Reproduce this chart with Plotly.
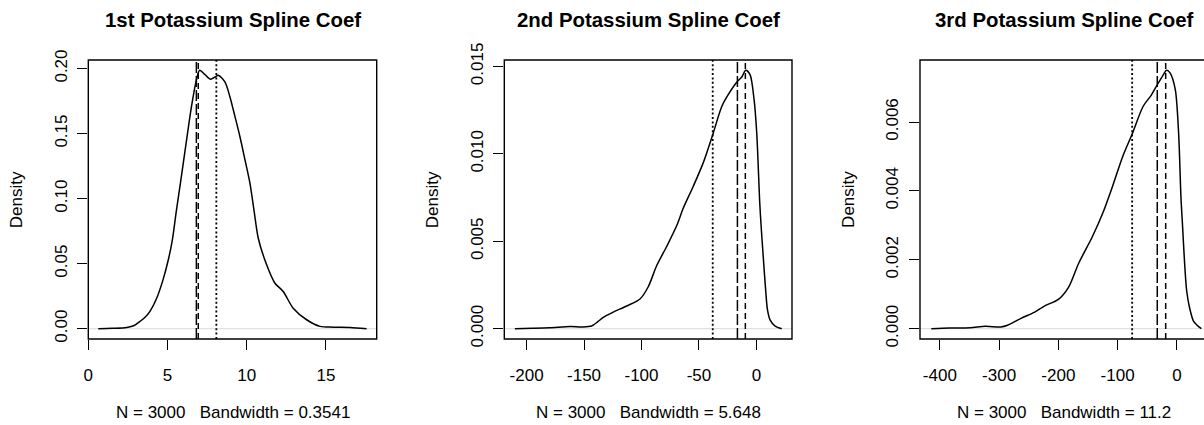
import plotly.graph_objects as go

W, H = 1204, 425

# ---------------- data ----------------
k1_x = [0.63, 1.5, 2.43, 2.9, 3.26, 3.6, 3.9, 4.3, 4.7, 5.05, 5.3, 5.55, 5.85, 6.2, 6.5,
        6.8, 7.03, 7.35, 7.7, 8.0, 8.2, 8.62, 8.94, 9.26, 9.57, 9.89, 10.2, 10.47, 10.73,
        11.26, 11.78, 12.3, 12.93, 13.78, 14.62, 15.46, 16.51, 17.56]
k1_d = [0.0, 0.0003, 0.001, 0.0025, 0.0056, 0.009, 0.0135, 0.023, 0.037, 0.053, 0.068, 0.09,
        0.115, 0.145, 0.17, 0.19, 0.1987, 0.1955, 0.1918, 0.1935, 0.1949, 0.1897, 0.1782,
        0.1629, 0.1476, 0.1297, 0.1119, 0.0899, 0.0694, 0.049, 0.035, 0.0286, 0.0158,
        0.0069, 0.0018, 0.0012, 0.001, 0.0]

k2_x = [-210.2, -195, -180, -162, -152, -143.4, -138, -133.3, -124.6, -112.9, -101.3, -94.1,
        -86.8, -78.1, -69.3, -63.6, -54.9, -46.2, -37.5, -30.2, -24.4, -17.1, -12.7, -9.2,
        -5.5, -2.0, 0.3, 3.0, 4.5, 6.1, 8.2, 9.6, 11.9, 16.3, 22.1]
k2_d = [0.0, 0.00002, 0.00005, 0.00012, 0.0001, 0.00015, 0.0004, 0.00065, 0.00095, 0.0013,
        0.0017, 0.0024, 0.0036, 0.0047, 0.0059, 0.0069, 0.00815, 0.0095, 0.0112, 0.0127,
        0.0134, 0.0141, 0.0144, 0.01478, 0.01453, 0.0131, 0.0112, 0.0071, 0.0055, 0.004,
        0.0021, 0.0011, 0.0005, 0.00015, 0.0]

k3_x = [-414.4, -383, -348.7, -323, -297, -285.8, -263, -240, -223, -200, -182.9, -165.7,
        -142.9, -124, -108.6, -91.4, -75.5, -57.1, -42.9, -33.1, -24, -17.5, -11.3, -2.7,
        2.9, 6.9, 9.5, 12.7, 16.5, 21.5, 28, 34, 41.2]
k3_d = [0.0, 0.00002, 0.00003, 0.00007, 0.00005, 0.0001, 0.0003, 0.00048, 0.00066, 0.00085,
        0.0012, 0.0019, 0.00266, 0.0034, 0.00413, 0.0050, 0.00565, 0.00645, 0.00679, 0.00708,
        0.00734, 0.0075, 0.00742, 0.00694, 0.00568, 0.0038, 0.003, 0.002, 0.0011, 0.0006,
        0.00022, 0.0001, 0.0]

# vertical reference lines: [dotted, long dash, short dash]
vlines1 = [8.08, 6.82, 6.94]
vlines2 = [-38.0, -16.5, -9.6]
vlines3 = [-75.5, -33.1, -18.9]

titles = ["1st Potassium Spline Coef", "2nd Potassium Spline Coef", "3rd Potassium Spline Coef"]
subtitles = ["N = 3000   Bandwidth = 0.3541", "N = 3000   Bandwidth = 5.648",
             "N = 3000   Bandwidth = 11.2"]
ylabel = "Density"

x1_ticks = [0, 5, 10, 15]
x1_text = ["0", "5", "10", "15"]
x2_ticks = [-200, -150, -100, -50, 0]
x2_text = ["-200", "-150", "-100", "-50", "0"]
x3_ticks = [-400, -300, -200, -100, 0]
x3_text = ["-400", "-300", "-200", "-100", "0"]
y1_ticks = [0.0, 0.05, 0.10, 0.15, 0.20]
y1_text = ["0.00", "0.05", "0.10", "0.15", "0.20"]
y2_ticks = [0.0, 0.005, 0.010, 0.015]
y2_text = ["0.000", "0.005", "0.010", "0.015"]
y3_ticks = [0.0, 0.002, 0.004, 0.006]
y3_text = ["0.000", "0.002", "0.004", "0.006"]

# ---------------- layout geometry (pixels) ----------------
boxes = [(88.3, 376.7), (504.3, 792.0), (920.0, 1208.0)]
box_top, box_bot = 60.0, 339.0
xranges = [[0.0, 18.2], [-219.4, 31.0], [-433.5, 52.5]]
yranges = [[-0.0079, 0.2066], [-0.00059, 0.01537], [-0.0003, 0.0078]]

FONT = "Liberation Sans, Arial, Helvetica, sans-serif"
fs = 17

fig = go.Figure()

series = [(k1_x, k1_d), (k2_x, k2_d), (k3_x, k3_d)]
vls = [vlines1, vlines2, vlines3]
xt = [(x1_ticks, x1_text), (x2_ticks, x2_text), (x3_ticks, x3_text)]
yt = [(y1_ticks, y1_text), (y2_ticks, y2_text), (y3_ticks, y3_text)]
dashes = ["2px,2.4px", "11px,3px", "6px,4px"]
dash_w = [1.8, 1.5, 1.5]

ydom = [1 - box_bot / H, 1 - box_top / H]

for i in range(3):
    sfx = "" if i == 0 else str(i + 1)
    xa, ya = "x" + sfx, "y" + sfx
    xs, ds = series[i]
    fig.add_trace(go.Scatter(x=xs, y=ds, mode="lines", xaxis=xa, yaxis=ya,
                             line=dict(color="black", width=1.5, shape="spline", smoothing=0.8),
                             showlegend=False, hoverinfo="skip"))
    l, r = boxes[i]
    xd = [l / W, min(r, W) / W]
    x0, x1 = xranges[i]
    if r > W:
        x1 = x0 + (x1 - x0) * (W - l) / (r - l)
    fig.update_layout(**{
        "xaxis" + sfx: dict(domain=xd, range=[x0, x1], anchor=ya, showgrid=False,
                            zeroline=False, showline=False, ticks="outside", ticklen=10,
                            tickwidth=1.3, tickcolor="black", tickvals=xt[i][0],
                            ticktext=xt[i][1], tickfont=dict(family=FONT, size=fs, color="black"),
                            ticklabelstandoff=11, automargin=False),
        "yaxis" + sfx: dict(domain=ydom, range=yranges[i], anchor=xa, showgrid=False,
                            zeroline=False, showline=False, ticks="outside", ticklen=10,
                            tickwidth=1.3, tickcolor="black", tickvals=yt[i][0],
                            ticktext=yt[i][1], tickangle=-90,
                            tickfont=dict(family=FONT, size=fs, color="black"),
                            ticklabelstandoff=4, automargin=False),
    })
    # gray zero line
    fig.add_shape(type="line", xref=xa + " domain", yref=ya, x0=0, x1=1, y0=0, y1=0,
                  line=dict(color="#D9D9D9", width=1), layer="below")
    # vertical reference lines
    for v, dsh, dw in zip(vls[i], dashes, dash_w):
        fig.add_shape(type="line", xref=xa, yref=ya + " domain", x0=v, x1=v, y0=0, y1=1,
                      line=dict(color="black", width=dw, dash=dsh))
    # box
    fig.add_shape(type="rect", xref="paper", yref="paper", x0=l / W, x1=r / W,
                  y0=ydom[0], y1=ydom[1], line=dict(color="black", width=1.4))
    cx = (l + r) / 2 / W
    fig.add_annotation(text="<b>%s</b>" % titles[i], xref="paper", yref="paper", x=cx,
                       y=1 - 19.5 / H, xanchor="center", yanchor="middle", showarrow=False,
                       font=dict(family=FONT, size=20.4, color="black"))
    fig.add_annotation(text=subtitles[i], xref="paper", yref="paper", x=cx, y=1 - 412 / H,
                       xanchor="center", yanchor="middle", showarrow=False,
                       font=dict(family=FONT, size=fs, color="black"))
    fig.add_annotation(text=ylabel, xref="paper", yref="paper", x=(l - 71.6) / W,
                       y=1 - 199.5 / H, xanchor="center", yanchor="middle", showarrow=False,
                       textangle=-90, font=dict(family=FONT, size=fs, color="black"))

fig.update_layout(width=W, height=H, margin=dict(l=0, r=0, t=0, b=0, pad=0, autoexpand=False),
                  paper_bgcolor="white", plot_bgcolor="white", showlegend=False)

fig.write_html("out.html")
